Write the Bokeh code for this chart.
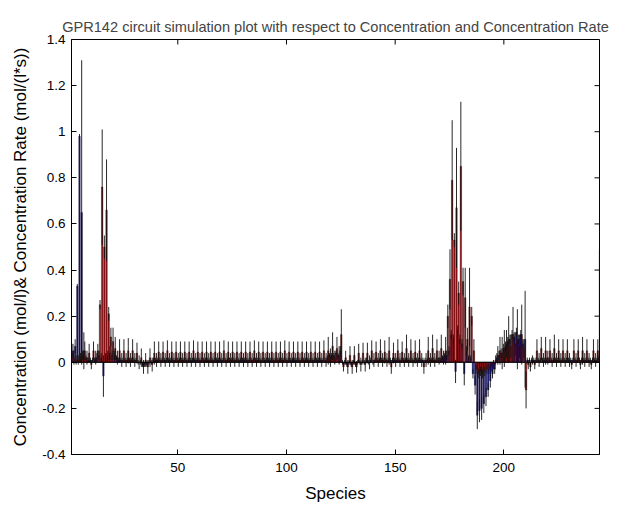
from math import pi
from bokeh.plotting import figure
from bokeh.models import ColumnDataSource, FixedTicker, Span, Range1d
from bokeh.transform import dodge
from bokeh.embed import file_html
from bokeh.resources import INLINE

species = list(range(1, 245))

# Concentration (blue bars)
concentration = [
    0.03, 0.05, 0.07, 0.33, 0.98, 0.65, 0.05, 0.02, 0.01, 0.01,
    0.01, 0.01, 0.02, 0.03, 0.02, -0.06, 0.02, 0.03, 0.04, 0.03,
    0.03, 0.02, 0.01, 0.01, 0.01, 0.01, 0.01, 0.01, 0.01, 0.01,
    0.01, 0.00, 0.00, -0.01, -0.01, -0.01, 0.00, 0.00, 0.01, 0.01,
    0.01, 0.01, 0.01, 0.01, 0.01, 0.01, 0.01, 0.01, 0.01, 0.01,
    0.01, 0.01, 0.01, 0.01, 0.01, 0.01, 0.01, 0.01, 0.01, 0.01,
    0.01, 0.01, 0.01, 0.01, 0.01, 0.01, 0.01, 0.01, 0.01, 0.01,
    0.01, 0.01, 0.01, 0.01, 0.01, 0.01, 0.01, 0.01, 0.01, 0.01,
    0.01, 0.01, 0.01, 0.01, 0.01, 0.01, 0.01, 0.01, 0.01, 0.01,
    0.01, 0.01, 0.01, 0.01, 0.01, 0.01, 0.01, 0.01, 0.01, 0.01,
    0.01, 0.01, 0.01, 0.01, 0.01, 0.01, 0.01, 0.01, 0.01, 0.01,
    0.01, 0.01, 0.01, 0.01, 0.01, 0.01, 0.01, 0.01, 0.02, 0.03,
    0.03, 0.03, 0.04, 0.03, 0.05, 0.00, 0.00, -0.01, 0.00, -0.01,
    0.00, -0.01, 0.00, 0.00, 0.00, 0.00, 0.01, 0.00, 0.01, 0.00,
    0.01, 0.01, 0.01, 0.01, 0.01, 0.01, 0.01, 0.01, 0.01, 0.01,
    0.01, 0.01, 0.01, 0.01, 0.01, 0.01, 0.01, 0.01, 0.01, 0.01,
    0.01, 0.01, 0.01, 0.01, 0.01, 0.01, 0.01, 0.01, 0.01, 0.01,
    0.01, 0.02, 0.03, 0.03, 0.05, 0.12, 0.10, -0.04, 0.14, 0.10,
    0.08, -0.05, 0.05, 0.02, 0.02, -0.05, -0.10, -0.23, -0.21, -0.20,
    -0.18, -0.15, -0.12, -0.08, -0.05, -0.03, 0.02, 0.03, 0.04, 0.06,
    0.07, 0.09, 0.10, 0.12, 0.11, 0.13, 0.10, 0.12, 0.08, 0.10,
    0.01, 0.01, 0.01, 0.01, 0.01, 0.01, 0.01, 0.01, 0.01, 0.01,
    0.01, 0.01, 0.01, 0.01, 0.01, 0.01, 0.01, 0.01, 0.01, 0.01,
    0.01, 0.01, 0.01, 0.01, 0.01, 0.01, 0.01, 0.01, 0.01, 0.01,
    0.01, 0.01, 0.01, 0.02,
]

concentration_err = [
    0.02, 0.03, 0.03, 0.01, 0.01, 0.66, 0.08, 0.01, 0.01, 0.01,
    0.01, 0.01, 0.02, 0.02, 0.02, 0.09, 0.02, 0.02, 0.03, 0.02,
    0.02, 0.01, 0.01, 0.01, 0.01, 0.01, 0.01, 0.01, 0.01, 0.01,
    0.01, 0.01, 0.01, 0.01, 0.01, 0.01, 0.01, 0.01, 0.01, 0.01,
    0.01, 0.01, 0.01, 0.01, 0.01, 0.01, 0.01, 0.01, 0.01, 0.01,
    0.01, 0.01, 0.01, 0.01, 0.01, 0.01, 0.01, 0.01, 0.01, 0.01,
    0.01, 0.01, 0.01, 0.01, 0.01, 0.01, 0.01, 0.01, 0.01, 0.01,
    0.01, 0.01, 0.01, 0.01, 0.01, 0.01, 0.01, 0.01, 0.01, 0.01,
    0.01, 0.01, 0.01, 0.01, 0.01, 0.01, 0.01, 0.01, 0.01, 0.01,
    0.01, 0.01, 0.01, 0.01, 0.01, 0.01, 0.01, 0.01, 0.01, 0.01,
    0.01, 0.01, 0.01, 0.01, 0.01, 0.01, 0.01, 0.01, 0.01, 0.01,
    0.01, 0.01, 0.01, 0.01, 0.01, 0.01, 0.01, 0.01, 0.01, 0.01,
    0.01, 0.01, 0.01, 0.01, 0.02, 0.01, 0.01, 0.01, 0.01, 0.01,
    0.01, 0.01, 0.01, 0.01, 0.01, 0.01, 0.01, 0.01, 0.01, 0.01,
    0.01, 0.01, 0.01, 0.01, 0.01, 0.01, 0.01, 0.01, 0.01, 0.01,
    0.01, 0.01, 0.01, 0.01, 0.01, 0.01, 0.01, 0.01, 0.01, 0.01,
    0.01, 0.01, 0.01, 0.01, 0.01, 0.01, 0.01, 0.01, 0.01, 0.01,
    0.01, 0.01, 0.01, 0.02, 0.02, 0.02, 0.02, 0.05, 0.02, 0.02,
    0.02, 0.05, 0.02, 0.01, 0.01, 0.02, 0.04, 0.06, 0.05, 0.05,
    0.04, 0.04, 0.03, 0.03, 0.02, 0.02, 0.02, 0.02, 0.02, 0.02,
    0.02, 0.02, 0.02, 0.02, 0.02, 0.02, 0.02, 0.02, 0.02, 0.21,
    0.01, 0.01, 0.01, 0.01, 0.01, 0.01, 0.01, 0.01, 0.01, 0.01,
    0.01, 0.01, 0.01, 0.01, 0.01, 0.01, 0.01, 0.01, 0.01, 0.01,
    0.01, 0.01, 0.01, 0.01, 0.01, 0.01, 0.01, 0.01, 0.01, 0.01,
    0.01, 0.01, 0.01, 0.01,
]

# Concentration rate (red bars)
rate = [
    0.04, 0.02, 0.01, 0.01, 0.02, 0.03, 0.05, 0.02, 0.04, -0.01,
    0.05, 0.02, 0.05, 0.25, 0.76, 0.50, 0.66, 0.21, 0.11, 0.09,
    0.06, 0.02, 0.05, 0.01, 0.05, 0.01, 0.05, 0.01, 0.05, 0.01,
    0.04, 0.00, 0.02, -0.02, 0.01, -0.02, 0.02, -0.01, 0.04, 0.01,
    0.045, 0.01, 0.045, 0.01, 0.05, 0.01, 0.045, 0.01, 0.045, 0.01,
    0.045, 0.01, 0.045, 0.01, 0.045, 0.01, 0.05, 0.01, 0.045, 0.01,
    0.045, 0.01, 0.045, 0.01, 0.045, 0.01, 0.045, 0.01, 0.045, 0.01,
    0.05, 0.01, 0.045, 0.01, 0.045, 0.01, 0.045, 0.01, 0.045, 0.01,
    0.045, 0.01, 0.045, 0.01, 0.05, 0.01, 0.045, 0.01, 0.045, 0.01,
    0.045, 0.01, 0.045, 0.01, 0.045, 0.01, 0.045, 0.01, 0.05, 0.01,
    0.045, 0.01, 0.045, 0.01, 0.045, 0.01, 0.045, 0.01, 0.045, 0.01,
    0.045, 0.01, 0.045, 0.01, 0.045, 0.01, 0.05, 0.01, 0.05, 0.02,
    0.07, 0.02, 0.06, 0.03, 0.12, -0.02, 0.02, -0.02, 0.03, -0.02,
    0.03, -0.02, 0.04, -0.01, 0.04, -0.01, 0.04, 0.00, 0.05, 0.01,
    0.045, 0.01, 0.05, 0.01, 0.045, 0.01, 0.05, -0.02, 0.04, 0.01,
    0.05, 0.01, 0.045, 0.01, 0.06, 0.01, 0.05, 0.01, 0.045, 0.01,
    0.05, 0.01, -0.02, 0.01, 0.05, 0.01, 0.06, 0.01, 0.05, 0.02,
    0.06, 0.02, 0.05, 0.20, 0.36, 0.79, 0.53, 0.67, 0.30, 0.85,
    0.35, 0.28, 0.10, 0.24, 0.20, 0.05, -0.03, -0.05, -0.04, -0.05,
    -0.04, -0.03, -0.03, -0.02, -0.01, 0.01, 0.03, 0.05, 0.04, 0.06,
    0.08, 0.10, 0.07, 0.12, 0.08, 0.10, 0.07, 0.12, 0.06, -0.12,
    -0.01, -0.02, 0.01, -0.01, 0.05, 0.01, 0.06, 0.01, 0.05, 0.02,
    0.05, 0.01, 0.06, 0.01, 0.05, 0.01, 0.05, 0.01, 0.05, 0.01,
    -0.01, 0.05, 0.01, 0.05, -0.01, 0.05, 0.01, 0.05, 0.01, -0.01,
    0.05, 0.01, 0.05, 0.49,
]

rate_err = [
    0.04, 0.03, 0.02, 0.02, 0.02, 0.02, 0.04, 0.03, 0.04, 0.02,
    0.04, 0.03, 0.03, 0.02, 0.25, 0.05, 0.22, 0.03, 0.04, 0.06,
    0.05, 0.03, 0.05, 0.03, 0.05, 0.03, 0.055, 0.03, 0.05, 0.03,
    0.045, 0.03, 0.04, 0.03, 0.03, 0.03, 0.04, 0.03, 0.05, 0.03,
    0.045, 0.03, 0.045, 0.03, 0.045, 0.03, 0.045, 0.03, 0.045, 0.03,
    0.045, 0.03, 0.045, 0.03, 0.045, 0.03, 0.045, 0.03, 0.045, 0.03,
    0.045, 0.03, 0.045, 0.03, 0.045, 0.03, 0.045, 0.03, 0.045, 0.03,
    0.045, 0.03, 0.045, 0.03, 0.045, 0.03, 0.045, 0.03, 0.045, 0.03,
    0.045, 0.03, 0.045, 0.03, 0.045, 0.03, 0.045, 0.03, 0.045, 0.03,
    0.045, 0.03, 0.045, 0.03, 0.045, 0.03, 0.045, 0.03, 0.045, 0.03,
    0.045, 0.03, 0.045, 0.03, 0.045, 0.03, 0.045, 0.03, 0.045, 0.03,
    0.045, 0.03, 0.045, 0.03, 0.045, 0.03, 0.045, 0.03, 0.06, 0.04,
    0.06, 0.03, 0.05, 0.04, 0.11, 0.02, 0.03, 0.03, 0.04, 0.03,
    0.04, 0.025, 0.04, 0.03, 0.045, 0.03, 0.045, 0.03, 0.045, 0.03,
    0.045, 0.03, 0.05, 0.03, 0.05, 0.03, 0.06, 0.03, 0.045, 0.03,
    0.05, 0.03, 0.045, 0.03, 0.06, 0.03, 0.05, 0.03, 0.05, 0.03,
    0.05, 0.03, 0.03, 0.03, 0.06, 0.03, 0.06, 0.03, 0.05, 0.03,
    0.06, 0.03, 0.06, 0.05, 0.13, 0.26, 0.03, 0.26, 0.05, 0.28,
    0.06, 0.13, 0.05, 0.17, 0.04, 0.05, 0.02, 0.02, 0.02, 0.02,
    0.02, 0.02, 0.02, 0.02, 0.02, 0.02, 0.04, 0.06, 0.07, 0.08,
    0.06, 0.10, 0.05, 0.12, 0.05, 0.13, 0.05, 0.13, 0.04, 0.08,
    0.02, 0.02, 0.02, 0.02, 0.05, 0.03, 0.05, 0.03, 0.06, 0.03,
    0.05, 0.03, 0.06, 0.03, 0.05, 0.03, 0.05, 0.03, 0.05, 0.03,
    0.02, 0.05, 0.03, 0.05, 0.02, 0.06, 0.03, 0.05, 0.03, 0.02,
    0.05, 0.03, 0.05, 0.24,
]

x_ticks = [50, 100, 150, 200]
x_tick_labels = ["50", "100", "150", "200"]
y_ticks = [-0.4, -0.2, 0.0, 0.2, 0.4, 0.6, 0.8, 1.0, 1.2, 1.4]
y_tick_labels = ["-0.4", "-0.2", "0", "0.2", "0.4", "0.6", "0.8", "1", "1.2", "1.4"]

lens = [len(species), len(concentration), len(concentration_err), len(rate), len(rate_err)]
if len(set(lens)) != 1:
    raise ValueError("length mismatch: %s" % lens)

src = ColumnDataSource(dict(
    x=species,
    c=concentration,
    r=rate,
    c_lo=[v - e for v, e in zip(concentration, concentration_err)],
    c_hi=[v + e for v, e in zip(concentration, concentration_err)],
    r_lo=[v - e for v, e in zip(rate, rate_err)],
    r_hi=[v + e for v, e in zip(rate, rate_err)],
))

FONT = "Liberation Sans"
BLUE = "#13138c"
RED = "#961418"

x_range = Range1d(1.1, 244.0)
y_range = Range1d(-0.4, 1.4)

p = figure(
    width=622, height=505,
    x_range=x_range, y_range=y_range,
    output_backend="svg", toolbar_location=None,
    title="GPR142 circuit simulation plot with respect to Concentration and Concentration Rate",
    min_border_left=71, min_border_right=23, min_border_top=39, min_border_bottom=51,
    background_fill_color="white", border_fill_color="white",
)
p.grid.visible = False
p.outline_line_color = "black"
p.outline_line_width = 1

p.title.text_font = FONT
p.title.text_font_size = "14.6px"
p.title.text_font_style = "normal"
p.title.align = "center"
p.title.standoff = 10

for ax in (p.xaxis[0], p.yaxis[0]):
    ax.major_tick_in = 5
    ax.major_tick_out = 0
    ax.minor_tick_in = 0
    ax.minor_tick_out = 0
    ax.axis_line_color = "black"
    ax.major_tick_line_color = "black"
    ax.major_label_text_font = FONT
    ax.major_label_text_font_size = "13.5px"
    ax.major_label_text_color = "black"
    ax.axis_label_text_font = FONT
    ax.axis_label_text_font_size = "17px"
    ax.axis_label_text_font_style = "normal"
    ax.axis_label_text_color = "black"

p.xaxis[0].ticker = FixedTicker(ticks=x_ticks)
p.xaxis[0].major_label_overrides = dict(zip(x_ticks, x_tick_labels))
p.xaxis[0].major_label_standoff = 8
p.xaxis[0].axis_label = "Species"
p.xaxis[0].axis_label_standoff = 9

p.yaxis[0].ticker = FixedTicker(ticks=y_ticks)
p.yaxis[0].major_label_overrides = dict(zip(y_ticks, y_tick_labels))
p.yaxis[0].major_label_standoff = 6
p.yaxis[0].axis_label = "Concentration (mol/l)& Concentration Rate (mol/(l*s))"
p.yaxis[0].axis_label_standoff = 9

# bars (grouped: blue = concentration, red = rate)
p.vbar(x=dodge("x", -0.22), width=0.7, top="c", bottom=0, source=src,
       fill_color=BLUE, line_color="#120000", line_width=0.3)
p.vbar(x=dodge("x", 0.22), width=0.7, top="r", bottom=0, source=src,
       fill_color=RED, line_color="#120000", line_width=0.3)
p.add_layout(Span(location=0, dimension="width", line_color="black", line_width=1))

# error bars
p.segment(x0=dodge("x", -0.22), y0="c_lo", x1=dodge("x", -0.22), y1="c_hi", source=src,
          line_color="#111111", line_width=0.9)
p.segment(x0=dodge("x", 0.22), y0="r_lo", x1=dodge("x", 0.22), y1="r_hi", source=src,
          line_color="#111111", line_width=0.9)

# inward ticks on the top and right edges of the box (matching the axis ticks)
p.ray(x=x_ticks, y=[y_range.end] * len(x_ticks), length=5, length_units="screen",
      angle=-pi / 2, line_color="black", line_width=1)
p.ray(x=[x_range.end] * len(y_ticks), y=y_ticks, length=5, length_units="screen",
      angle=pi, line_color="black", line_width=1)

open("out.html", "w").write(file_html(p, INLINE))
